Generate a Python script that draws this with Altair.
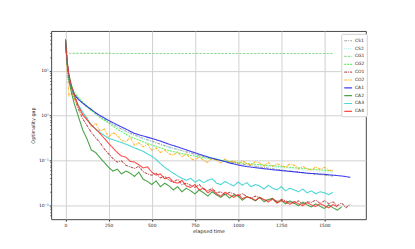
import altair as alt
import pandas as pd

# shared time grid for the sampled curves
GRID = [0, 10, 20, 35, 50] + list(range(75, 1676, 25))

SERIES = ["CS1", "CS2", "CG1", "CG2", "CO1", "CO2", "CA1", "CA2", "CA3", "CA4"]
COLORS = ["#8f8f8f", "#a8ecec", "#7ccf7c", "#3cf03c", "#a83232", "#ffa500",
          "#1010ee", "#1e8c1e", "#20cccc", "#ff2020"]
DASHES = [[3, 1, 1, 1], [1, 1], [2.5, 1.2], [2, 1], [3, 1, 1, 1], [3, 1, 1, 1],
          [1, 0], [1, 0], [1, 0], [1, 0]]
OPAC = [0.8, 0.8, 0.85, 1, 0.85, 1, 1, 1, 1, 0.9]

# smooth series (own time stamps)
CS1_T = [0, 10, 20, 35, 50, 75, 100, 150, 200, 250, 300, 350, 400, 450, 500, 550, 600,
         650, 700, 750, 800, 900, 1000, 1100, 1200, 1300, 1400, 1500, 1550]
CS1_V = [49, 15, 7.5, 4.3, 3.1, 2.3, 1.85, 1.3, 0.95, 0.72, 0.56, 0.45, 0.37, 0.31, 0.27,
         0.23, 0.2, 0.175, 0.155, 0.138, 0.122, 0.1, 0.085, 0.074, 0.065, 0.058, 0.052,
         0.047, 0.045]
CS2_T = [0, 10, 20, 35, 50, 75, 100, 150, 200, 250, 300, 350, 400, 450, 500, 550, 600,
         700, 800, 900, 1000, 1100, 1200, 1300, 1400, 1500, 1550]
CS2_V = [49, 15, 7.5, 4.3, 3.1, 2.4, 1.9, 1.3, 0.95, 0.72, 0.55, 0.43, 0.36, 0.3, 0.26,
         0.22, 0.19, 0.155, 0.125, 0.105, 0.09, 0.08, 0.072, 0.066, 0.06, 0.055, 0.052]
CG1_T = [0, 10, 20, 50, 300, 800, 1300, 1550]
CG1_V = [49, 26, 24.6, 24.4, 24.3, 24.3, 24.2, 24.2]
CG2_T = [0, 10, 20, 35, 50, 75, 100, 125, 150, 175, 200, 250, 300, 350, 400, 450, 500,
         550, 600, 650, 700, 750, 800, 850, 900, 950, 1000, 1100, 1200, 1300, 1400, 1500, 1550]
CG2_V = [49, 15, 8, 5, 3.4, 2.5, 2.0, 1.6, 1.3, 1.1, 0.9, 0.68, 0.5, 0.38, 0.31, 0.26,
         0.22, 0.19, 0.165, 0.15, 0.135, 0.125, 0.115, 0.107, 0.1, 0.095, 0.09, 0.082,
         0.076, 0.07, 0.065, 0.06, 0.058]
CA1_T = [0, 10, 20, 35, 50, 75, 100, 125, 150, 175, 200, 250, 300, 350, 400, 450, 500,
         550, 600, 650, 700, 750, 800, 850, 900, 950, 1000, 1050, 1100, 1200, 1300, 1400,
         1500, 1600, 1650]
CA1_V = [49, 15, 7.5, 4.2, 3.0, 2.3, 1.9, 1.6, 1.37, 1.15, 1.0, 0.78, 0.62, 0.5, 0.4,
         0.35, 0.31, 0.27, 0.23, 0.2, 0.172, 0.148, 0.128, 0.112, 0.1, 0.088, 0.079,
         0.073, 0.069, 0.062, 0.057, 0.052, 0.049, 0.045, 0.042]

# noisy series on GRID
CO1_V = [49, 15, 7, 4.0, 2.6,
         1.4, 0.85, 0.6, 0.42, 0.32, 0.25, 0.18, 0.14, 0.11, 0.092,
         0.098, 0.078, 0.072, 0.066, 0.074, 0.056, 0.05, 0.047, 0.052, 0.041,
         0.044, 0.036, 0.033, 0.038, 0.029, 0.031, 0.028, 0.025, 0.029, 0.023,
         0.021, 0.024, 0.019, 0.02, 0.017, 0.0195, 0.018, 0.016, 0.0182, 0.0158,
         0.0142, 0.016, 0.0148, 0.0132, 0.0128, 0.0141, 0.0122, 0.0136, 0.0125, 0.0116,
         0.0112, 0.0126, 0.0106, 0.012, 0.0116, 0.0131, 0.011, 0.0126, 0.0108, 0.0119,
         0.0098, 0.0113, 0.0088, 0.0106]
CO2_V = [49, 10, 2.8, 3.2, 2.4,
         1.6, 1.05, 0.9, 0.55, 0.68, 0.45, 0.5, 0.33, 0.42, 0.36,
         0.28, 0.26, 0.33, 0.22, 0.25, 0.2, 0.23, 0.17, 0.19, 0.15,
         0.17, 0.14, 0.13, 0.155, 0.12, 0.14, 0.11, 0.1, 0.122, 0.1,
         0.09, 0.115, 0.1, 0.088, 0.108, 0.092, 0.098, 0.082, 0.1, 0.085,
         0.08, 0.094, 0.088, 0.075, 0.09, 0.073, 0.085, 0.078, 0.07, 0.084,
         0.078, 0.066, 0.073, 0.066, 0.06, 0.072, 0.064, 0.07, 0.061, 0.058]
CA2_V = [49, 14, 6, 3.2, 1.9,
         0.95, 0.48, 0.30, 0.17, 0.15, 0.115, 0.09, 0.07, 0.058, 0.064,
         0.05, 0.058, 0.052, 0.044, 0.055, 0.038, 0.034, 0.029, 0.035, 0.026,
         0.031, 0.027, 0.022, 0.026, 0.02, 0.024, 0.021, 0.018, 0.022, 0.019,
         0.016, 0.02, 0.017, 0.015, 0.018, 0.0145, 0.017, 0.016, 0.013, 0.0155,
         0.0145, 0.0125, 0.015, 0.012, 0.0135, 0.0142, 0.0115, 0.0128, 0.0108, 0.0125,
         0.0112, 0.0098, 0.0118, 0.0102, 0.0092, 0.0108, 0.0095, 0.0085, 0.0102, 0.0088,
         0.0078, 0.0092]
CA3_V = [49, 15, 7.5, 4.2, 2.8,
         1.7, 1.2, 0.85, 0.62, 0.5, 0.42, 0.36, 0.31, 0.29, 0.27,
         0.25, 0.23, 0.21, 0.19, 0.175, 0.16, 0.14, 0.125, 0.105, 0.085,
         0.07, 0.06, 0.052, 0.045, 0.04, 0.036, 0.04, 0.033, 0.037, 0.032,
         0.036, 0.039, 0.031, 0.029, 0.034, 0.03, 0.027, 0.033, 0.028, 0.032,
         0.026, 0.029, 0.027, 0.023, 0.028, 0.024, 0.022, 0.026, 0.021, 0.024,
         0.022, 0.02, 0.023, 0.019, 0.021, 0.018, 0.02, 0.019, 0.0172, 0.0195]
CA4_V = [49, 16, 8, 4.5, 3.0,
         1.6, 1.05, 0.8, 0.62, 0.5, 0.4, 0.31, 0.24, 0.19, 0.15,
         0.125, 0.118, 0.095, 0.092, 0.08, 0.068, 0.072, 0.055, 0.047, 0.05,
         0.039, 0.042, 0.033, 0.031, 0.036, 0.027, 0.025, 0.029, 0.022, 0.024,
         0.019, 0.022, 0.018, 0.016, 0.0195, 0.017, 0.015, 0.0175, 0.014, 0.0155,
         0.0145, 0.0128, 0.015, 0.0135, 0.0118, 0.0138, 0.0112, 0.0128, 0.0118, 0.0105,
         0.0122, 0.0108, 0.0098, 0.0115, 0.0102, 0.0094, 0.0108, 0.0098, 0.0088, 0.0104,
         0.0092]

X_TICKS = [0, 250, 500, 750, 1000, 1250, 1500]
Y_TICKS = [0.01, 0.1, 1, 10]
Y_MINOR = [m * d for d in [0.001, 0.01, 0.1, 1, 10] for m in range(2, 10)]
Y_MINOR = [v for v in Y_MINOR if 0.005 < v < 77]

rows = []
def add(name, ts, vs):
    for t, v in zip(ts, vs):
        rows.append({"s": name, "t": t, "v": v})

add("CS1", CS1_T, CS1_V)
add("CS2", CS2_T, CS2_V)
add("CG1", CG1_T, CG1_V)
add("CG2", CG2_T, CG2_V)
add("CO1", GRID, CO1_V)
add("CO2", GRID, CO2_V)
add("CA1", CA1_T, CA1_V)
add("CA2", GRID, CA2_V)
add("CA3", GRID, CA3_V)
add("CA4", GRID, CA4_V)
df = pd.DataFrame(rows)

FONT = "DejaVu Sans"
yscale = alt.Scale(type="log", domain=[0.0049, 77], nice=False)
leg = alt.Legend(title=None, orient="none", legendX=296, legendY=3, padding=2,
                 fillColor="white", strokeColor="#d0d0d0", cornerRadius=1,
                 labelFontSize=4.5, labelFont=FONT, labelColor="#222",
                 symbolType="stroke", symbolSize=64, symbolStrokeWidth=1.2,
                 rowPadding=-2, labelOffset=2)

lines = alt.Chart(df).mark_line(strokeWidth=1.1, clip=True).encode(
    x=alt.X("t:Q", scale=alt.Scale(domain=[-83, 1740], nice=False, zero=False),
            axis=alt.Axis(values=X_TICKS, format="d", title="elapsed time", grid=True,
                          gridColor="#d0d0d0", gridWidth=1, domain=False,
                          tickSize=2, tickColor="#333", labelFontSize=4.5,
                          labelFont=FONT, labelColor="#222", labelPadding=1,
                          labelOverlap=False,
                          titleFontSize=5, titleFont=FONT, titleFontWeight="normal",
                          titleColor="#222", titlePadding=2)),
    y=alt.Y("v:Q", scale=yscale,
            axis=alt.Axis(values=Y_TICKS, title="Optimality gap", grid=True,
                          gridColor="#d0d0d0", gridWidth=1, domain=False,
                          tickSize=2, tickColor="#333", labelFontSize=4.5,
                          labelFont=FONT, labelColor="#222", labelPadding=1,
                          labelExpr="datum.value >= 5 ? '10¹' : datum.value >= 0.5 ? '10⁰' : datum.value >= 0.05 ? '10⁻¹' : '10⁻²'",
                          titleFontSize=5, titleFont=FONT, titleFontWeight="normal",
                          titleColor="#222", titlePadding=3)),
    color=alt.Color("s:N", scale=alt.Scale(domain=SERIES, range=COLORS), legend=leg),
    strokeDash=alt.StrokeDash("s:N", scale=alt.Scale(domain=SERIES, range=DASHES), legend=leg),
    opacity=alt.Opacity("s:N", scale=alt.Scale(domain=SERIES, range=OPAC), legend=None),
)

minor = alt.Chart(pd.DataFrame({"m": Y_MINOR})).mark_point(opacity=0).encode(
    y=alt.Y("m:Q", scale=yscale,
            axis=alt.Axis(values=Y_MINOR, labels=False, ticks=True, tickSize=1.2,
                          tickColor="#333", grid=False, domain=False, title=None,
                          orient="left"))
)

chart = alt.layer(lines, minor).resolve_axis(y="independent").properties(
    width=321, height=192,
    autosize=alt.AutoSizeParams(type="none"),
    padding={"left": 44, "top": 21, "right": 42, "bottom": 28},
).configure_view(stroke="#444", strokeWidth=1)

chart.save("out.html", embed_options={"renderer": "svg", "actions": False})
